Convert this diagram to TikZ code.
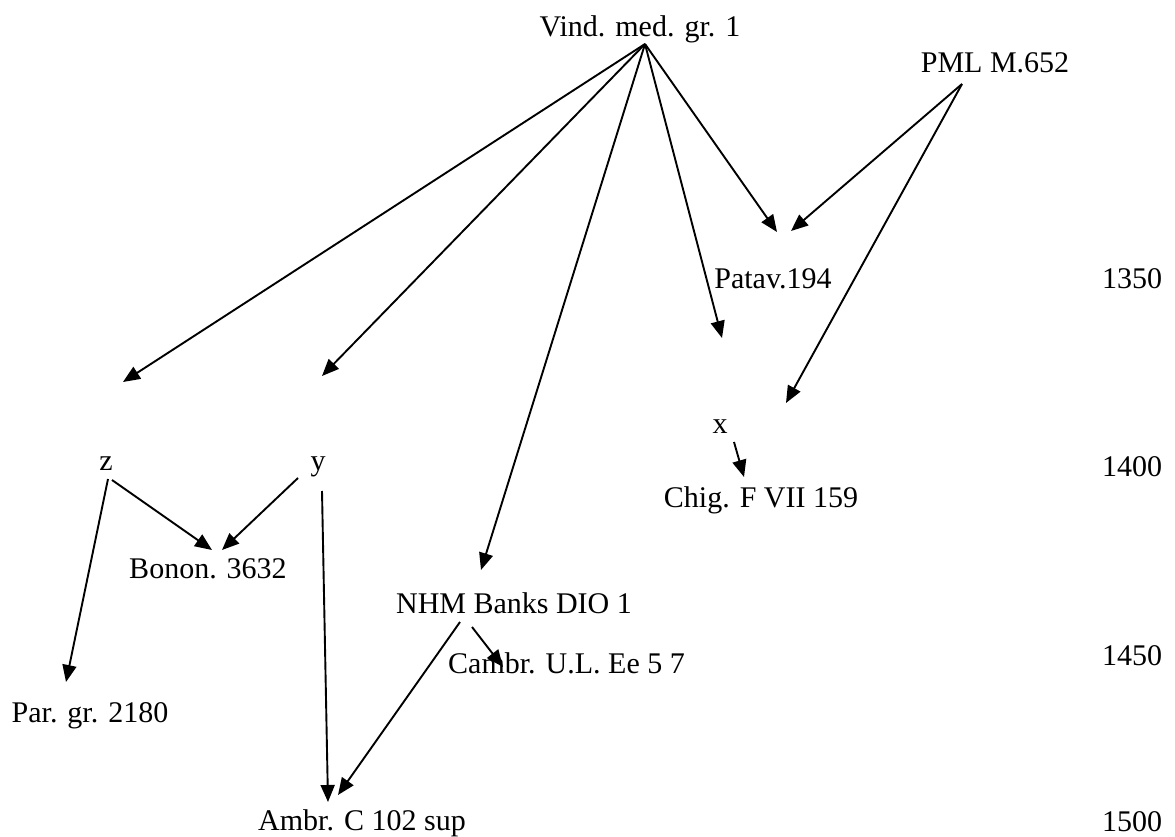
\documentclass[tikz,border=0pt]{standalone}
\usepackage{fontspec}
\setmainfont{Liberation Serif}
\usetikzlibrary{arrows.meta}
\begin{document}
\begin{tikzpicture}[x=1pt,y=-1pt,
  lbl/.style={anchor=base,inner sep=0pt,font=\fontsize{30}{36}\selectfont},
  arr/.style={line width=1.9pt,-{Triangle[length=17pt,width=14pt]}}]
\useasboundingbox (0,0) rectangle (1175,837);
% texts
\node[lbl] (vind) at (640,37) {Vind. med. gr. 1};
\node[lbl] (pml) at (995,73) {PML M.652};
\node[lbl] (patav) at (773,288) {Patav.194};
\node[lbl] (x) at (720,433) {x};
\node[lbl] (z) at (106,470) {z};
\node[lbl] (y) at (318,470) {y};
\node[lbl] (chig) at (761,507) {Chig. F VII 159};
\node[lbl] (bonon) at (208,578) {Bonon. 3632};
\node[lbl] (nhm) at (514,613) {NHM Banks DIO 1};
\node[lbl,anchor=base west] (cambr) at (448,673) {Cambr. U.L. Ee 5 7};
\node[lbl] (par) at (90,722) {Par. gr. 2180};
\node[lbl] (ambr) at (362,830) {Ambr. C 102 sup};
\node[lbl] (d1350) at (1132,288) {1350};
\node[lbl] (d1400) at (1132,476) {1400};
\node[lbl] (d1450) at (1132,665) {1450};
\node[lbl] (d1500) at (1132,831) {1500};
% connector ends
\coordinate (vS) at (645,44);
\coordinate (pS) at (962,84);
\coordinate (zE) at (123,382);
\coordinate (yE) at (322,376);
\coordinate (nE) at (481,570);
\coordinate (xE) at (722,338);
\coordinate (pE1) at (777,232);
\coordinate (pE2) at (791,231);
\coordinate (xE2) at (786,403);
\coordinate (xS) at (734,442);
\coordinate (cE) at (744,477);
\coordinate (zS1) at (112,480);
\coordinate (bE1) at (212,550);
\coordinate (zS2) at (108,479);
\coordinate (parE) at (66,682);
\coordinate (yS1) at (298,478);
\coordinate (bE2) at (222,550);
\coordinate (yS2) at (322,491);
\coordinate (aE1) at (328,802);
\coordinate (nS1) at (460,622);
\coordinate (aE2) at (338,795);
\coordinate (nS2) at (472,627);
\coordinate (cbE) at (503,667);
% connectors
\draw[arr] (vS) -- (zE);
\draw[arr] (vS) -- (yE);
\draw[arr] (vS) -- (nE);
\draw[arr] (vS) -- (xE);
\draw[arr] (vS) -- (pE1);
\draw[arr] (pS) -- (pE2);
\draw[arr] (pS) -- (xE2);
\draw[arr] (xS) -- (cE);
\draw[arr] (zS1) -- (bE1);
\draw[arr] (zS2) -- (parE);
\draw[arr] (yS1) -- (bE2);
\draw[arr] (yS2) -- (aE1);
\draw[arr] (nS1) -- (aE2);
\draw[arr] (nS2) -- (cbE);
\end{tikzpicture}
\end{document}
